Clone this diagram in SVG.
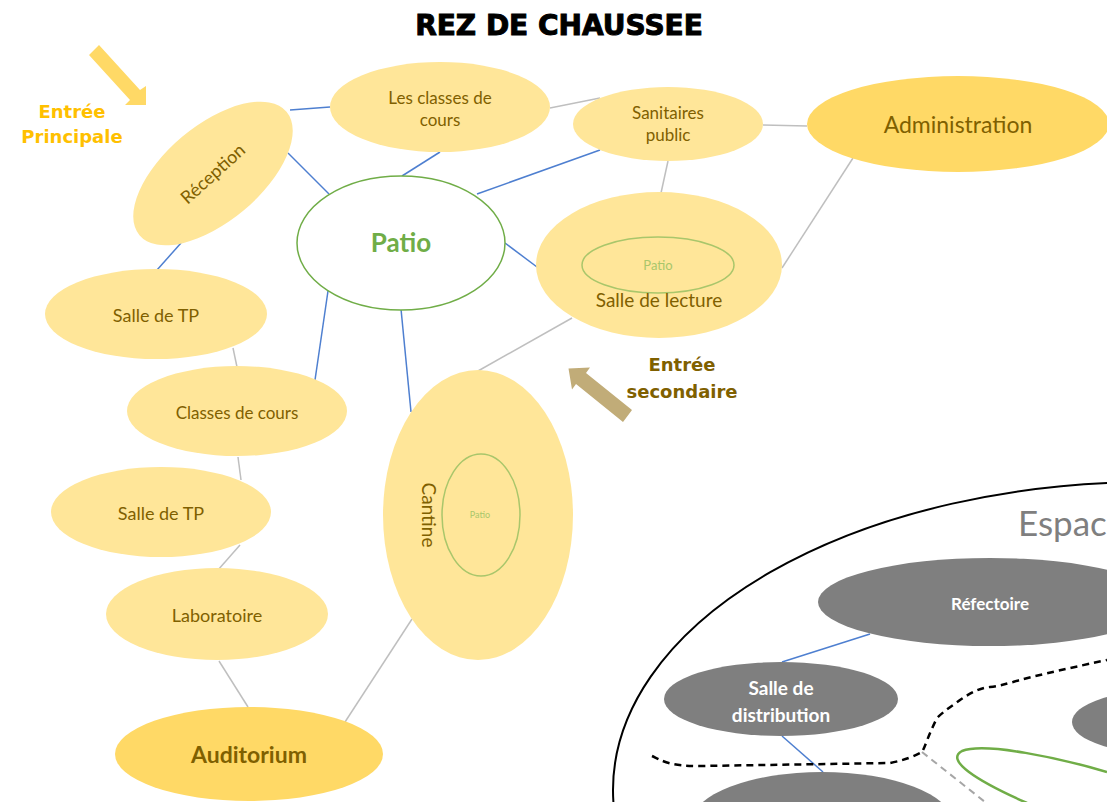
<svg xmlns="http://www.w3.org/2000/svg" width="1107" height="802" viewBox="0 0 1107 802">
<style>
.n{fill:#FFE699}
.d{fill:#FFD966}
.t{font-family:Lato,"Liberation Sans",sans-serif;fill:#7F6000;text-anchor:middle;font-size:17px}
.g{fill:#7F7F7F}
.w{font-family:Lato,"Liberation Sans",sans-serif;fill:#FFFFFF;text-anchor:middle;font-weight:bold}
.b{stroke:#4E7FD0;stroke-width:1.5;fill:none}
.s{stroke:#BFBFBF;stroke-width:1.5;fill:none}
.e{font-family:"DejaVu Sans","Liberation Sans",sans-serif;font-weight:bold;text-anchor:middle;font-size:18px}
</style>
<rect width="1107" height="802" fill="#FFFFFF"/>
<text x="559" y="35" font-family="'DejaVu Sans','Liberation Sans',sans-serif" font-weight="900" font-size="28" text-anchor="middle" fill="#000000" stroke="#000" stroke-width="1">REZ DE CHAUSSEE</text>

<g id="connectors">
<line class="b" x1="290" y1="110" x2="330" y2="107"/>
<line class="b" x1="288" y1="153" x2="329" y2="194"/>
<line class="b" x1="440" y1="152" x2="402" y2="176"/>
<line class="b" x1="477" y1="194" x2="600" y2="150"/>
<line class="b" x1="505" y1="243" x2="537" y2="267"/>
<line class="b" x1="328" y1="291" x2="315" y2="380"/>
<line class="b" x1="401" y1="309" x2="411" y2="412"/>
<line class="b" x1="181" y1="243" x2="157" y2="270"/>
<line class="s" x1="550" y1="108" x2="600" y2="98"/>
<line class="s" x1="763" y1="125" x2="807" y2="126"/>
<line class="s" x1="668" y1="161" x2="661" y2="193"/>
<line class="s" x1="853" y1="158" x2="782" y2="268"/>
<line class="s" x1="572" y1="318" x2="478" y2="371"/>
<line class="s" x1="233" y1="348" x2="237" y2="367"/>
<line class="s" x1="238" y1="457" x2="241" y2="480"/>
<line class="s" x1="240" y1="545" x2="218" y2="570"/>
<line class="s" x1="219" y1="661" x2="248" y2="707"/>
<line class="s" x1="412" y1="619" x2="345" y2="722"/>
<line class="b" x1="870" y1="634" x2="782" y2="662"/>
<line class="b" x1="782" y1="736" x2="823" y2="772"/>
</g>

<g id="entree-principale">
<polygon points="99,45 140,90 146,86 146,105 125,105 130,100 89,55" fill="#FFD966"/>
<text class="e" fill="#FFC000" x="72" y="118">Entrée</text>
<text class="e" fill="#FFC000" x="72" y="143">Principale</text>
</g>

<g id="entree-secondaire">
<polygon points="632,410 586,373 590,367.5 568.5,368.5 572,389.5 576,384 623,422" fill="#C1AC78"/>
<text class="e" fill="#7F6000" x="682" y="371">Entrée</text>
<text class="e" fill="#7F6000" x="682" y="398">secondaire</text>
</g>

<g id="reception">
<ellipse class="n" cx="213" cy="173.5" rx="96" ry="48" transform="rotate(-40 213 173.5)"/>
<text class="t" x="213" y="180" transform="rotate(-42 213 174)" style="font-size:18px">Réception</text>
</g>

<g id="classes-cours-haut">
<ellipse class="n" cx="440" cy="107" rx="110" ry="45"/>
<text class="t" x="440" y="104">Les classes de</text>
<text class="t" x="440" y="126">cours</text>
</g>

<g id="sanitaires">
<ellipse class="n" cx="668" cy="124" rx="95" ry="37"/>
<text class="t" x="668" y="119">Sanitaires</text>
<text class="t" x="668" y="141">public</text>
</g>

<g id="administration">
<ellipse class="d" cx="958" cy="124" rx="151" ry="48"/>
<text class="t" x="958" y="133" style="font-size:23px">Administration</text>
</g>

<g id="patio">
<ellipse cx="401" cy="243" rx="104" ry="67" fill="#FFFFFF" stroke="#70AD47" stroke-width="1.5"/>
<text x="401" y="252" font-family="Lato,'Liberation Sans',sans-serif" font-weight="bold" font-size="26" fill="#70AD47" text-anchor="middle">Patio</text>
</g>

<g id="salle-lecture">
<ellipse class="n" cx="659" cy="265" rx="123" ry="73"/>
<ellipse cx="658" cy="265" rx="76" ry="28" fill="none" stroke="#A9C66B" stroke-width="1.5"/>
<text x="658" y="270" font-family="Lato,'Liberation Sans',sans-serif" font-size="13" fill="#A9C66B" text-anchor="middle">Patio</text>
<text class="t" x="659" y="307" style="font-size:19px">Salle de lecture</text>
</g>

<g id="salle-tp-1">
<ellipse class="n" cx="156" cy="314" rx="111" ry="45"/>
<text class="t" x="156" y="322" style="font-size:18px">Salle de TP</text>
</g>

<g id="classes-cours">
<ellipse class="n" cx="237" cy="411" rx="110" ry="45"/>
<text class="t" x="237" y="419">Classes de cours</text>
</g>

<g id="salle-tp-2">
<ellipse class="n" cx="161" cy="512" rx="110" ry="45"/>
<text class="t" x="161" y="520" style="font-size:18px">Salle de TP</text>
</g>

<g id="laboratoire">
<ellipse class="n" cx="217" cy="614" rx="111" ry="46"/>
<text class="t" x="217" y="622" style="font-size:18px">Laboratoire</text>
</g>

<g id="auditorium">
<ellipse class="d" cx="249" cy="754" rx="134" ry="47"/>
<text class="t" x="249" y="763" style="font-size:23px;font-weight:bold">Auditorium</text>
</g>

<g id="cantine">
<ellipse class="n" cx="478" cy="515" rx="95" ry="145"/>
<ellipse cx="481" cy="515" rx="39" ry="61" fill="none" stroke="#A9C66B" stroke-width="1.5"/>
<text x="480" y="518" font-family="Lato,'Liberation Sans',sans-serif" font-size="9" fill="#A9C66B" text-anchor="middle">Patio</text>
<text class="t" x="422" y="515" transform="rotate(90 422 515)" style="font-size:19px">Cantine</text>
</g>

<g id="espace">
<ellipse cx="1150" cy="790" rx="537" ry="308" fill="none" stroke="#000000" stroke-width="2"/>
<text x="1018" y="536" font-family="Lato,'Liberation Sans',sans-serif" font-size="35" fill="#7F7F7F">Espace</text>
<path d="M652,756 C665,762 670,766 700,766 L890,763 C905,760 915,756 922,752 C926,745 927,738 937,718 C945,710 955,704 960,700 C972,692 980,688 990,687 C1000,686 1005,684 1013,682 C1030,677 1060,670 1107,660" fill="none" stroke="#000000" stroke-width="2.5" stroke-dasharray="7,5"/>
<path d="M922,752 L985,802" fill="none" stroke="#A6A6A6" stroke-width="2" stroke-dasharray="7,5"/>
<path d="M1027,803 C975,780 945,760 962,751 C985,742 1060,758 1107,772" fill="none" stroke="#70AD47" stroke-width="2.5"/>
</g>

<g id="refectoire">
<ellipse class="g" cx="990" cy="602" rx="172" ry="44"/>
<text class="w" x="990" y="610" font-size="17">Réfectoire</text>
</g>

<g id="salle-distribution">
<ellipse class="g" cx="781" cy="699" rx="117" ry="37"/>
<text class="w" x="781" y="695" font-size="19">Salle de</text>
<text class="w" x="781" y="722" font-size="19">distribution</text>
</g>

<g id="noeud-bas">
<ellipse class="g" cx="822" cy="822" rx="130" ry="50"/>
</g>

<g id="noeud-droite">
<ellipse class="g" cx="1172" cy="722" rx="100" ry="33"/>
</g>
</svg>
